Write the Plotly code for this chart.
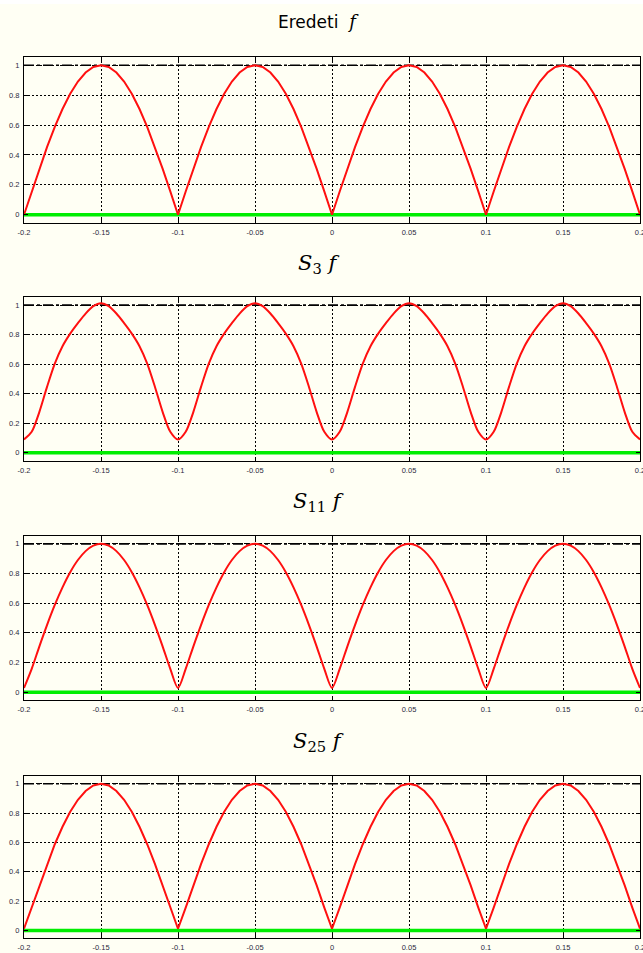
import plotly.graph_objects as go

# ---------------- data ----------------
x = [-0.2, -0.195, -0.19, -0.185, -0.18, -0.175, -0.17, -0.165, -0.16, -0.155,
     -0.15, -0.145, -0.14, -0.135, -0.13, -0.125, -0.12, -0.115, -0.11, -0.105,
     -0.1, -0.095, -0.09, -0.085, -0.08, -0.075, -0.07, -0.065, -0.06, -0.055,
     -0.05, -0.045, -0.04, -0.035, -0.03, -0.025, -0.02, -0.015, -0.01, -0.005,
     0.0, 0.005, 0.01, 0.015, 0.02, 0.025, 0.03, 0.035, 0.04, 0.045,
     0.05, 0.055, 0.06, 0.065, 0.07, 0.075, 0.08, 0.085, 0.09, 0.095,
     0.1, 0.105, 0.11, 0.115, 0.12, 0.125, 0.13, 0.135, 0.14, 0.145,
     0.15, 0.155, 0.16, 0.165, 0.17, 0.175, 0.18, 0.185, 0.19, 0.195, 0.2]

f_orig = [0.0, 0.156, 0.309, 0.454, 0.588, 0.707, 0.809, 0.891, 0.951, 0.988,
          1.0, 0.988, 0.951, 0.891, 0.809, 0.707, 0.588, 0.454, 0.309, 0.156,
          0.0, 0.156, 0.309, 0.454, 0.588, 0.707, 0.809, 0.891, 0.951, 0.988,
          1.0, 0.988, 0.951, 0.891, 0.809, 0.707, 0.588, 0.454, 0.309, 0.156,
          0.0, 0.156, 0.309, 0.454, 0.588, 0.707, 0.809, 0.891, 0.951, 0.988,
          1.0, 0.988, 0.951, 0.891, 0.809, 0.707, 0.588, 0.454, 0.309, 0.156,
          0.0, 0.156, 0.309, 0.454, 0.588, 0.707, 0.809, 0.891, 0.951, 0.988,
          1.0, 0.988, 0.951, 0.891, 0.809, 0.707, 0.588, 0.454, 0.309, 0.156,
          0.0]

s3 = [0.091, 0.143, 0.278, 0.448, 0.604, 0.722, 0.807, 0.878, 0.943, 0.993,
      1.013, 0.993, 0.943, 0.878, 0.807, 0.722, 0.604, 0.448, 0.278, 0.143,
      0.091, 0.143, 0.278, 0.448, 0.604, 0.722, 0.807, 0.878, 0.943, 0.993,
      1.013, 0.993, 0.943, 0.878, 0.807, 0.722, 0.604, 0.448, 0.278, 0.143,
      0.091, 0.143, 0.278, 0.448, 0.604, 0.722, 0.807, 0.878, 0.943, 0.993,
      1.013, 0.993, 0.943, 0.878, 0.807, 0.722, 0.604, 0.448, 0.278, 0.143,
      0.091, 0.143, 0.278, 0.448, 0.604, 0.722, 0.807, 0.878, 0.943, 0.993,
      1.013, 0.993, 0.943, 0.878, 0.807, 0.722, 0.604, 0.448, 0.278, 0.143,
      0.091]

s11 = [0.028, 0.157, 0.309, 0.454, 0.588, 0.707, 0.809, 0.891, 0.951, 0.988,
       1.001, 0.988, 0.951, 0.891, 0.809, 0.707, 0.588, 0.454, 0.309, 0.157,
       0.028, 0.157, 0.309, 0.454, 0.588, 0.707, 0.809, 0.891, 0.951, 0.988,
       1.001, 0.988, 0.951, 0.891, 0.809, 0.707, 0.588, 0.454, 0.309, 0.157,
       0.028, 0.157, 0.309, 0.454, 0.588, 0.707, 0.809, 0.891, 0.951, 0.988,
       1.001, 0.988, 0.951, 0.891, 0.809, 0.707, 0.588, 0.454, 0.309, 0.157,
       0.028, 0.157, 0.309, 0.454, 0.588, 0.707, 0.809, 0.891, 0.951, 0.988,
       1.001, 0.988, 0.951, 0.891, 0.809, 0.707, 0.588, 0.454, 0.309, 0.157,
       0.028]

s25 = [0.012, 0.156, 0.309, 0.454, 0.588, 0.707, 0.809, 0.891, 0.951, 0.988,
       1.0, 0.988, 0.951, 0.891, 0.809, 0.707, 0.588, 0.454, 0.309, 0.156,
       0.012, 0.156, 0.309, 0.454, 0.588, 0.707, 0.809, 0.891, 0.951, 0.988,
       1.0, 0.988, 0.951, 0.891, 0.809, 0.707, 0.588, 0.454, 0.309, 0.156,
       0.012, 0.156, 0.309, 0.454, 0.588, 0.707, 0.809, 0.891, 0.951, 0.988,
       1.0, 0.988, 0.951, 0.891, 0.809, 0.707, 0.588, 0.454, 0.309, 0.156,
       0.012, 0.156, 0.309, 0.454, 0.588, 0.707, 0.809, 0.891, 0.951, 0.988,
       1.0, 0.988, 0.951, 0.891, 0.809, 0.707, 0.588, 0.454, 0.309, 0.156,
       0.012]

bound_x = [-0.2, 0.2]
upper_line = [1, 1]
zero_line = [0, 0]

panel_titles = [
    "Eredeti  <span style=\"font-family:'DejaVu Serif';font-size:18px\"><i>f</i></span>",
    "<i>S</i><sub>3</sub> <i>f</i>",
    "<i>S</i><sub>11</sub> <i>f</i>",
    "<i>S</i><sub>25</sub> <i>f</i>",
]

x_tickvals = [-0.2, -0.15, -0.1, -0.05, 0, 0.05, 0.1, 0.15, 0.2]
x_ticktext = ["-0.2", "-0.15", "-0.1", "-0.05", "0", "0.05", "0.1", "0.15", "0.2"]
y_tickvals = [0, 0.2, 0.4, 0.6, 0.8, 1]
y_ticktext = ["0", "0.2", "0.4", "0.6", "0.8", "1"]

# ---------------- layout ----------------
W, H = 643, 953
BG = "#fffff4"
series = [(f_orig, "linear"), (s3, "spline"), (s11, "spline"), (s25, "linear")]
panels_px = [(57.3, 222.7), (297.3, 460.7), (536.0, 700.0), (776.0, 938.3)]
title_y_px = [21, 264, 502, 742]

fig = go.Figure()
x_dom = [24 / W, 640 / W]

for i, (ys, shape) in enumerate(series):
    n = "" if i == 0 else str(i + 1)
    xa, ya = "x" + n, "y" + n
    fig.add_trace(go.Scatter(x=bound_x, y=zero_line, mode="lines",
                             line=dict(color="#00ee00", width=3.5),
                             xaxis=xa, yaxis=ya, showlegend=False, hoverinfo="skip"))
    fig.add_trace(go.Scatter(x=bound_x, y=upper_line, mode="lines",
                             line=dict(color="black", width=1.6, dash="10px,3px,3px,3px"),
                             xaxis=xa, yaxis=ya, showlegend=False, hoverinfo="skip"))
    fig.add_trace(go.Scatter(x=x, y=ys, mode="lines",
                             line=dict(color="#ff1010", width=2, shape=shape, smoothing=0.8),
                             xaxis=xa, yaxis=ya, showlegend=False))
    top, bot = panels_px[i]
    common = dict(showline=True, linecolor="black", linewidth=1, mirror="ticks",
                  ticks="inside", ticklen=4, tickcolor="black", tickwidth=1,
                  showgrid=True, gridcolor="black", gridwidth=1, griddash="2px,2px",
                  zeroline=False, ticklabeloverflow="allow",
                  tickfont=dict(family="Liberation Sans, Arial", size=7.5, color="#2a2a40"))
    fig.layout["xaxis" + n] = dict(domain=x_dom, range=[-0.2, 0.2], anchor=ya,
                                   tickmode="array", tickvals=x_tickvals, ticktext=x_ticktext,
                                   ticklabelstandoff=2, **common)
    fig.layout["yaxis" + n] = dict(domain=[1 - bot / H, 1 - top / H], range=[-0.053, 1.053],
                                   anchor=xa, tickmode="array", tickvals=y_tickvals,
                                   ticktext=y_ticktext, ticklabelstandoff=2, **common)

annotations = []
for i, t in enumerate(panel_titles):
    if i == 0:
        font = dict(family="DejaVu Sans", size=17, color="black")
    else:
        font = dict(family="DejaVu Serif", size=21, color="black")
    annotations.append(dict(text=t, x=318 / W, y=1 - title_y_px[i] / H, xref="paper", yref="paper",
                            xanchor="center", yanchor="middle", showarrow=False, font=font))

fig.update_layout(width=W, height=H, margin=dict(l=0, r=0, t=0, b=0, autoexpand=False),
                  paper_bgcolor=BG, plot_bgcolor=BG, annotations=annotations,
                  shapes=[dict(type="rect", xref="paper", yref="paper", x0=0, x1=1,
                               y0=1 - 4 / H, y1=1, fillcolor="white", line=dict(width=0),
                               layer="below")])

fig.write_html("out.html")
